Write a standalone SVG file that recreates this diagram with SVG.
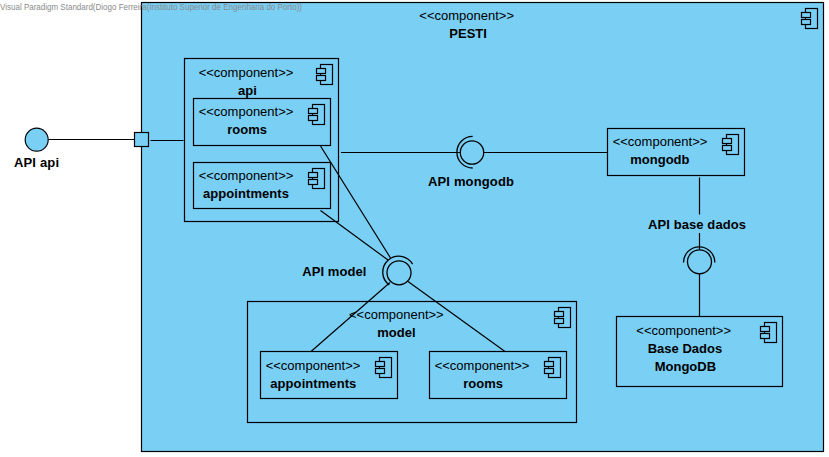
<svg xmlns="http://www.w3.org/2000/svg" xmlns:xlink="http://www.w3.org/1999/xlink" width="829" height="457" viewBox="0 0 829 457">
<style>
.box{fill:#7ACFF5;stroke:#000;stroke-width:1.2}
.ln{fill:none;stroke:#000;stroke-width:1.2}
.sk{fill:none;stroke:#000;stroke-width:1.3}
text{font-family:"Liberation Sans",Arial,sans-serif;font-size:13px;fill:#000}
.b{font-weight:bold}
.wm{font-size:9px;fill:#8a8a8a}
</style>
<defs>
<g id="icon">
<rect class="box" x="-12" y="0" width="12" height="20"/>
<rect class="box" x="-16" y="4" width="9" height="5"/>
<rect class="box" x="-16" y="11" width="9" height="5"/>
</g>
</defs>
<rect width="829" height="457" fill="#fff"/>
<g id="PESTI">
<rect class="box" x="141.5" y="2.5" width="682" height="449"/>
<use xlink:href="#icon" href="#icon" x="817.5" y="8.5"/>
<text x="419.3" y="20">&lt;&lt;component&gt;&gt;</text>
<text class="b" x="449.3" y="38">PESTI</text>
</g>
<g id="api">
<rect class="box" x="184.5" y="58.5" width="154" height="163"/>
<use xlink:href="#icon" href="#icon" x="332.5" y="64.5"/>
<text x="198.7" y="77">&lt;&lt;component&gt;&gt;</text>
<text class="b" x="238" y="95">api</text>
</g>
<g id="api-rooms">
<rect class="box" x="193.5" y="98.5" width="137" height="47"/>
<use xlink:href="#icon" href="#icon" x="324.5" y="104.5"/>
<text x="198.7" y="116">&lt;&lt;component&gt;&gt;</text>
<text class="b" x="227.3" y="134">rooms</text>
</g>
<g id="api-appointments">
<rect class="box" x="193.5" y="162.5" width="137" height="46"/>
<use xlink:href="#icon" href="#icon" x="324.5" y="168.5"/>
<text x="198.7" y="180">&lt;&lt;component&gt;&gt;</text>
<text class="b" x="203" y="198" textLength="86">appointments</text>
</g>
<g id="mongodb">
<rect class="box" x="607.5" y="128.5" width="137" height="47"/>
<use xlink:href="#icon" href="#icon" x="738.5" y="134.5"/>
<text x="612.7" y="146">&lt;&lt;component&gt;&gt;</text>
<text class="b" x="630.3" y="164">mongodb</text>
</g>
<g id="base-dados">
<rect class="box" x="616.5" y="316.5" width="166" height="70"/>
<use xlink:href="#icon" href="#icon" x="776.5" y="322.5"/>
<text x="636.3" y="335">&lt;&lt;component&gt;&gt;</text>
<text class="b" x="647.7" y="353">Base Dados</text>
<text class="b" x="654.7" y="371">MongoDB</text>
</g>
<g id="model">
<rect class="box" x="247.5" y="301.5" width="329" height="121"/>
<use xlink:href="#icon" href="#icon" x="570.5" y="307.5"/>
<text x="349" y="319">&lt;&lt;component&gt;&gt;</text>
<text class="b" x="377.3" y="337">model</text>
</g>
<g id="model-appointments">
<rect class="box" x="260.5" y="351.5" width="137" height="47"/>
<use xlink:href="#icon" href="#icon" x="391.5" y="357.5"/>
<text x="265.7" y="370">&lt;&lt;component&gt;&gt;</text>
<text class="b" x="270.3" y="388" textLength="86">appointments</text>
</g>
<g id="model-rooms">
<rect class="box" x="429.5" y="351.5" width="137" height="47"/>
<use xlink:href="#icon" href="#icon" x="560.5" y="357.5"/>
<text x="434.7" y="370">&lt;&lt;component&gt;&gt;</text>
<text class="b" x="463.3" y="388">rooms</text>
</g>
<g id="connectors">
<line class="ln" x1="48.5" y1="139.5" x2="134.5" y2="139.5"/>
<line class="ln" x1="150.5" y1="140.5" x2="183.5" y2="140.5"/>
<line class="ln" x1="341" y1="152.5" x2="460" y2="152.5"/>
<line class="ln" x1="484" y1="152.5" x2="607.5" y2="152.5"/>
<line class="ln" x1="699.5" y1="177.5" x2="699.5" y2="214.5"/>
<line class="ln" x1="699.5" y1="233" x2="699.5" y2="249.5"/>
<line class="ln" x1="699.5" y1="273.5" x2="699.5" y2="316.5"/>
<line class="ln" x1="320.5" y1="146" x2="390.5" y2="258"/>
<line class="ln" x1="320.5" y1="210.5" x2="388" y2="260"/>
<line class="ln" x1="311" y1="351.5" x2="390" y2="282.5"/>
<line class="ln" x1="505" y1="351.5" x2="408" y2="281.5"/>
</g>
<g id="port">
<rect class="box" x="134.5" y="132.5" width="14" height="14"/>
</g>
<g id="API-api">
<circle class="box" cx="36.7" cy="139.7" r="11.5"/>
<text class="b" x="14" y="167" textLength="45">API api</text>
</g>
<g id="API-mongodb">
<circle class="sk" cx="472" cy="152.5" r="11.7"/>
<path class="sk" d="M472.7 136.4A15.8 15.8 0 0 0 472.7 168"/>
<text class="b" x="428" y="186" textLength="86">API mongodb</text>
</g>
<g id="API-base-dados">
<circle class="sk" cx="699.5" cy="261.8" r="12"/>
<path class="sk" d="M683.5 262.5A15.7 15.7 0 0 1 714.9 262.5"/>
<text class="b" x="648" y="229" textLength="98">API base dados</text>
</g>
<g id="API-model">
<circle class="sk" cx="399" cy="272.8" r="12"/>
<path class="sk" d="M412.6 264.1A16 16 0 1 0 389.3 285"/>
<text class="b" x="302.3" y="276" textLength="64">API model</text>
</g>
<text class="wm" x="0" y="10" textLength="302" lengthAdjust="spacingAndGlyphs">Visual Paradigm Standard(Diogo Ferreira(Instituto Superior de Engenharia do Porto))</text>
</svg>
